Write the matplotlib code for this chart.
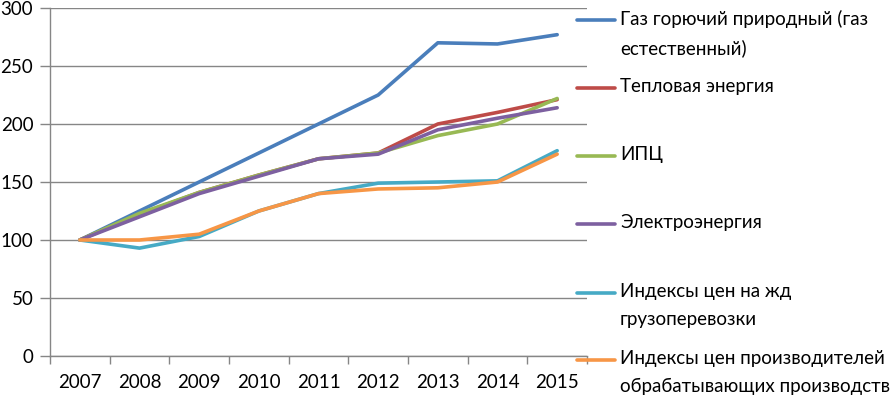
import matplotlib.pyplot as plt
from matplotlib.lines import Line2D
import numpy as np

plt.rcParams['font.family'] = ['Lato', 'DejaVu Sans']

years = ['2007', '2008', '2009', '2010', '2011', '2012', '2013', '2014', '2015']

gas = [100, 125, 150, 175, 200, 225, 270, 269, 277]
heat = [100, 122, 141, 156, 170, 175, 200, 210, 221]
cpi = [100, 123, 141, 156, 170, 175, 190, 200, 222]
power = [100, 120, 140, 155, 170, 174, 195, 205, 214]
rail = [100, 93, 103, 125, 140, 149, 150, 151, 177]
producer = [100, 100, 105, 125, 140, 144, 145, 150, 174]

series = [
    ('Газ горючий природный (газ\nестественный)', gas, '#4A7EBB'),
    ('Тепловая энергия', heat, '#BE4B48'),
    ('ИПЦ', cpi, '#98B954'),
    ('Электроэнергия', power, '#7D60A0'),
    ('Индексы цен на жд\nгрузоперевозки', rail, '#46AAC5'),
    ('Индексы цен производителей\nобрабатывающих производств', producer, '#F79646'),
]

W, H = 895, 397
fs = 13.5
fig = plt.figure(figsize=(W / 100, H / 100), dpi=100)
ax = fig.add_axes([50 / W, 1 - 356 / H, 537 / W, 348 / H])

x = np.arange(len(years))
for label, vals, color in series:
    ax.plot(x, vals, color=color, lw=2.6, solid_capstyle='round', solid_joinstyle='round')

ax.set_xlim(-0.5, len(years) - 0.5)
ax.set_ylim(0, 300)
ax.set_yticks(range(0, 301, 50))
ax.yaxis.grid(True, color='#868686', lw=1)
ax.set_axisbelow(True)

ax.set_xticks(x)
ax.set_xticklabels(years)
ax.set_xticks(np.arange(-0.5, len(years)), minor=True)
ax.tick_params(axis='x', which='major', length=0, pad=13, labelsize=fs)
ax.tick_params(axis='x', which='minor', length=6, color='#868686', width=1)
ax.tick_params(axis='y', length=7, color='#868686', width=1, labelsize=fs, pad=5)

for s in ['top', 'right']:
    ax.spines[s].set_visible(False)
for s in ['left', 'bottom']:
    ax.spines[s].set_color('#868686')
    ax.spines[s].set_linewidth(1)

# legend drawn by hand, Excel-style
legend_y = [20, 88, 156, 224, 293, 360]
for (label, vals, color), py in zip(series, legend_y):
    yf = 1 - py / H
    fig.add_artist(Line2D([577 / W, 615 / W], [yf, yf], color=color, lw=2.6,
                          solid_capstyle='round'))
    fig.text(620 / W, yf + 10 / H, label, fontsize=fs, va='top', ha='left',
             linespacing=1.75)

fig.savefig('out.png', dpi=100)
